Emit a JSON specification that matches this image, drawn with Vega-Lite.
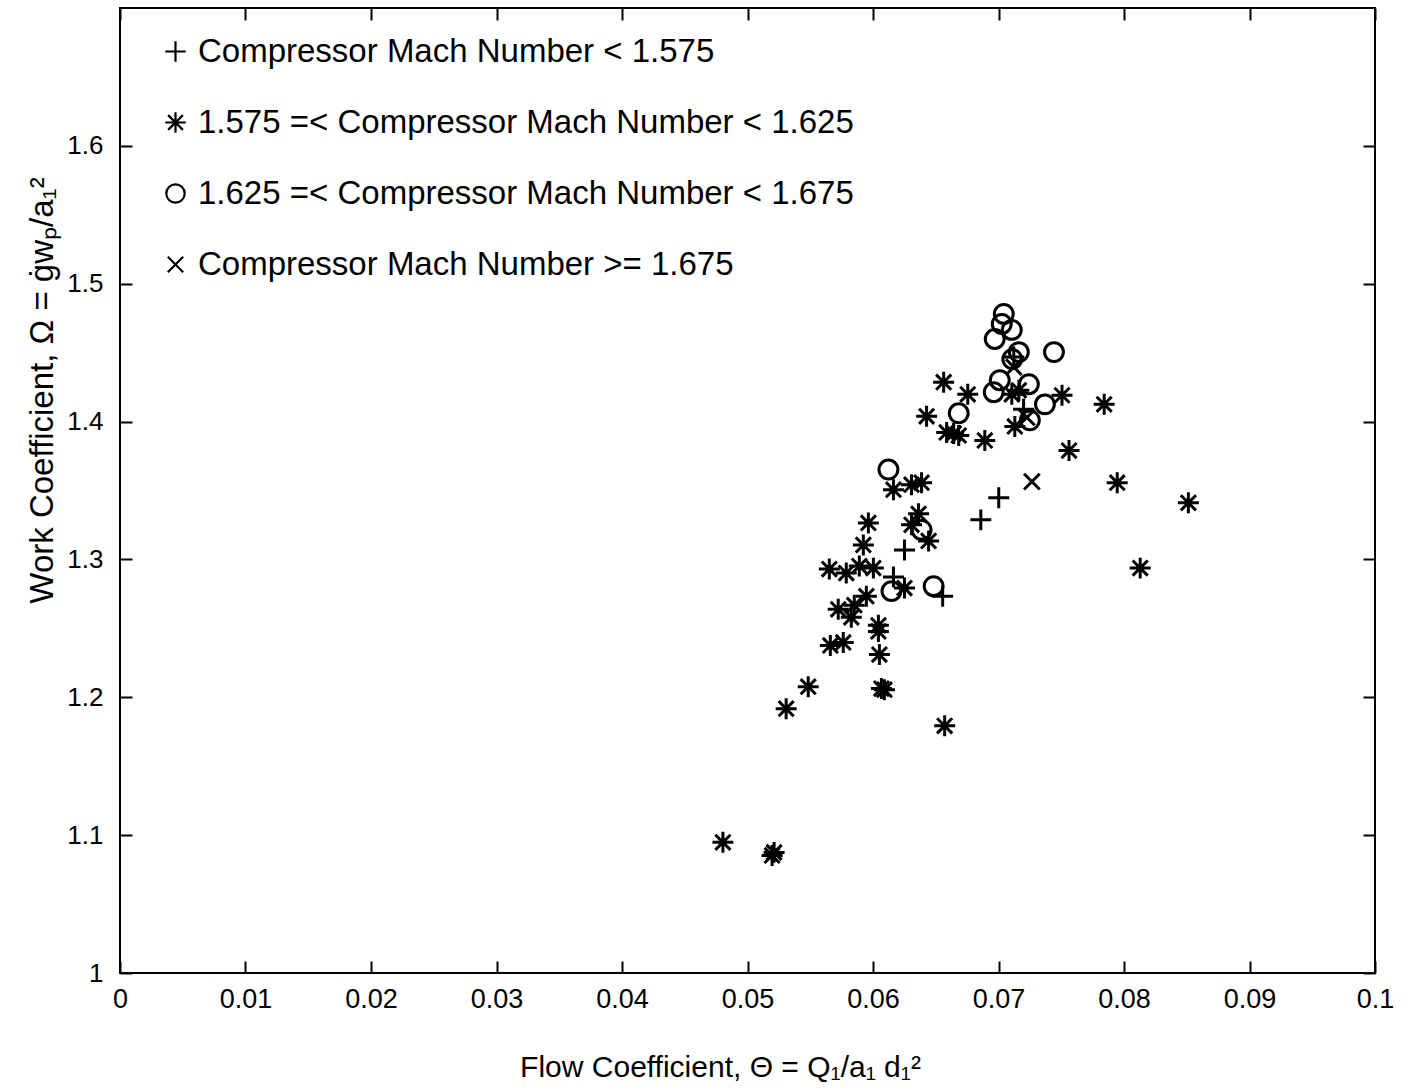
{
  "$schema": "https://vega.github.io/schema/vega-lite/v6.json",
  "width": 1255,
  "height": 965,
  "autosize": {"type": "none"},
  "padding": {"left": 120, "top": 8, "right": 35, "bottom": 115},
  "background": "white",
  "config": {
    "font": "Liberation Sans",
    "view": {"stroke": "black", "strokeWidth": 2},
    "axis": {"grid": false, "domain": false, "tickColor": "black", "tickWidth": 2, "tickSize": -12, "labelColor": "black", "titleColor": "black", "labelFont": "Liberation Sans", "titleFont": "Liberation Sans"}
  },
  "data": {"values": [
    {"x": 0.04804, "y": 1.0948, "g": "1.575 =< Compressor Mach Number < 1.625"},
    {"x": 0.05196, "y": 1.0853, "g": "1.575 =< Compressor Mach Number < 1.625"},
    {"x": 0.05212, "y": 1.0875, "g": "1.575 =< Compressor Mach Number < 1.625"},
    {"x": 0.05308, "y": 1.1917, "g": "1.575 =< Compressor Mach Number < 1.625"},
    {"x": 0.05484, "y": 1.2077, "g": "1.575 =< Compressor Mach Number < 1.625"},
    {"x": 0.05652, "y": 1.2930, "g": "1.575 =< Compressor Mach Number < 1.625"},
    {"x": 0.05660, "y": 1.2376, "g": "1.575 =< Compressor Mach Number < 1.625"},
    {"x": 0.05763, "y": 1.2398, "g": "1.575 =< Compressor Mach Number < 1.625"},
    {"x": 0.05787, "y": 1.2901, "g": "1.575 =< Compressor Mach Number < 1.625"},
    {"x": 0.05723, "y": 1.2638, "g": "1.575 =< Compressor Mach Number < 1.625"},
    {"x": 0.05851, "y": 1.2668, "g": "1.575 =< Compressor Mach Number < 1.625"},
    {"x": 0.05827, "y": 1.2580, "g": "1.575 =< Compressor Mach Number < 1.625"},
    {"x": 0.05947, "y": 1.2733, "g": "1.575 =< Compressor Mach Number < 1.625"},
    {"x": 0.05891, "y": 1.2952, "g": "1.575 =< Compressor Mach Number < 1.625"},
    {"x": 0.05923, "y": 1.3105, "g": "1.575 =< Compressor Mach Number < 1.625"},
    {"x": 0.05963, "y": 1.3265, "g": "1.575 =< Compressor Mach Number < 1.625"},
    {"x": 0.06003, "y": 1.2937, "g": "1.575 =< Compressor Mach Number < 1.625"},
    {"x": 0.06043, "y": 1.2522, "g": "1.575 =< Compressor Mach Number < 1.625"},
    {"x": 0.06043, "y": 1.2478, "g": "1.575 =< Compressor Mach Number < 1.625"},
    {"x": 0.06051, "y": 1.2310, "g": "1.575 =< Compressor Mach Number < 1.625"},
    {"x": 0.06067, "y": 1.2063, "g": "1.575 =< Compressor Mach Number < 1.625"},
    {"x": 0.06091, "y": 1.2055, "g": "1.575 =< Compressor Mach Number < 1.625"},
    {"x": 0.06163, "y": 1.3506, "g": "1.575 =< Compressor Mach Number < 1.625"},
    {"x": 0.06251, "y": 1.2792, "g": "1.575 =< Compressor Mach Number < 1.625"},
    {"x": 0.06307, "y": 1.3542, "g": "1.575 =< Compressor Mach Number < 1.625"},
    {"x": 0.06387, "y": 1.3557, "g": "1.575 =< Compressor Mach Number < 1.625"},
    {"x": 0.06363, "y": 1.3331, "g": "1.575 =< Compressor Mach Number < 1.625"},
    {"x": 0.06307, "y": 1.3251, "g": "1.575 =< Compressor Mach Number < 1.625"},
    {"x": 0.06443, "y": 1.3134, "g": "1.575 =< Compressor Mach Number < 1.625"},
    {"x": 0.06427, "y": 1.4038, "g": "1.575 =< Compressor Mach Number < 1.625"},
    {"x": 0.06563, "y": 1.4286, "g": "1.575 =< Compressor Mach Number < 1.625"},
    {"x": 0.06587, "y": 1.3921, "g": "1.575 =< Compressor Mach Number < 1.625"},
    {"x": 0.06683, "y": 1.3899, "g": "1.575 =< Compressor Mach Number < 1.625"},
    {"x": 0.06643, "y": 1.3914, "g": "1.575 =< Compressor Mach Number < 1.625"},
    {"x": 0.06755, "y": 1.4198, "g": "1.575 =< Compressor Mach Number < 1.625"},
    {"x": 0.06891, "y": 1.3863, "g": "1.575 =< Compressor Mach Number < 1.625"},
    {"x": 0.06571, "y": 1.1793, "g": "1.575 =< Compressor Mach Number < 1.625"},
    {"x": 0.07130, "y": 1.3965, "g": "1.575 =< Compressor Mach Number < 1.625"},
    {"x": 0.07162, "y": 1.4227, "g": "1.575 =< Compressor Mach Number < 1.625"},
    {"x": 0.07106, "y": 1.4198, "g": "1.575 =< Compressor Mach Number < 1.625"},
    {"x": 0.07506, "y": 1.4191, "g": "1.575 =< Compressor Mach Number < 1.625"},
    {"x": 0.07562, "y": 1.3790, "g": "1.575 =< Compressor Mach Number < 1.625"},
    {"x": 0.07842, "y": 1.4125, "g": "1.575 =< Compressor Mach Number < 1.625"},
    {"x": 0.07946, "y": 1.3557, "g": "1.575 =< Compressor Mach Number < 1.625"},
    {"x": 0.08129, "y": 1.2937, "g": "1.575 =< Compressor Mach Number < 1.625"},
    {"x": 0.08513, "y": 1.3411, "g": "1.575 =< Compressor Mach Number < 1.625"},
    {"x": 0.07042, "y": 1.4781, "g": "1.625 =< Compressor Mach Number < 1.675"},
    {"x": 0.07026, "y": 1.4708, "g": "1.625 =< Compressor Mach Number < 1.675"},
    {"x": 0.07106, "y": 1.4665, "g": "1.625 =< Compressor Mach Number < 1.675"},
    {"x": 0.06970, "y": 1.4599, "g": "1.625 =< Compressor Mach Number < 1.675"},
    {"x": 0.07162, "y": 1.4504, "g": "1.625 =< Compressor Mach Number < 1.675"},
    {"x": 0.07442, "y": 1.4504, "g": "1.625 =< Compressor Mach Number < 1.675"},
    {"x": 0.07010, "y": 1.4300, "g": "1.625 =< Compressor Mach Number < 1.675"},
    {"x": 0.06962, "y": 1.4213, "g": "1.625 =< Compressor Mach Number < 1.675"},
    {"x": 0.07242, "y": 1.4271, "g": "1.625 =< Compressor Mach Number < 1.675"},
    {"x": 0.07370, "y": 1.4125, "g": "1.625 =< Compressor Mach Number < 1.675"},
    {"x": 0.07250, "y": 1.4009, "g": "1.625 =< Compressor Mach Number < 1.675"},
    {"x": 0.07110, "y": 1.4453, "g": "1.625 =< Compressor Mach Number < 1.675"},
    {"x": 0.06683, "y": 1.4060, "g": "1.625 =< Compressor Mach Number < 1.675"},
    {"x": 0.06123, "y": 1.3652, "g": "1.625 =< Compressor Mach Number < 1.675"},
    {"x": 0.06387, "y": 1.3214, "g": "1.625 =< Compressor Mach Number < 1.675"},
    {"x": 0.06147, "y": 1.2770, "g": "1.625 =< Compressor Mach Number < 1.675"},
    {"x": 0.06483, "y": 1.2806, "g": "1.625 =< Compressor Mach Number < 1.675"},
    {"x": 0.07002, "y": 1.3447, "g": "Compressor Mach Number < 1.575"},
    {"x": 0.06859, "y": 1.3287, "g": "Compressor Mach Number < 1.575"},
    {"x": 0.06251, "y": 1.3068, "g": "Compressor Mach Number < 1.575"},
    {"x": 0.06163, "y": 1.2872, "g": "Compressor Mach Number < 1.575"},
    {"x": 0.06555, "y": 1.2733, "g": "Compressor Mach Number < 1.575"},
    {"x": 0.07122, "y": 1.4468, "g": "Compressor Mach Number < 1.575"},
    {"x": 0.07200, "y": 1.4089, "g": "Compressor Mach Number < 1.575"},
    {"x": 0.07266, "y": 1.3564, "g": "Compressor Mach Number >= 1.675"},
    {"x": 0.07122, "y": 1.4395, "g": "Compressor Mach Number >= 1.675"},
    {"x": 0.07226, "y": 1.4030, "g": "Compressor Mach Number >= 1.675"}
  ]},
  "resolve": {"axis": {"x": "independent", "y": "independent"}},
  "layer": [
    {
      "mark": {"type": "point", "filled": false, "color": "black", "strokeWidth": 3, "size": 440, "opacity": 1},
      "encoding": {
        "x": {"field": "x", "type": "quantitative", "scale": {"domain": [0, 0.1], "nice": false, "zero": false},
          "axis": {"orient": "bottom", "values": [0, 0.01, 0.02, 0.03, 0.04, 0.05, 0.06, 0.07, 0.08, 0.09, 0.1],
            "labelExpr": "datum.value == 0 ? '0' : (datum.value > 0.099 ? '0.1' : format(datum.value, '.2f'))",
            "labelFontSize": 27, "labelPadding": 25, "labelFlush": false,
            "title": "Flow Coefficient,  \u0398 = Q\u2081/a\u2081 d\u2081\u00b2", "titleFontSize": 30, "titleFontWeight": "normal", "titlePadding": 40, "titleX": 600}},
        "y": {"field": "y", "type": "quantitative", "scale": {"domain": [1, 1.7], "nice": false, "zero": false},
          "axis": {"orient": "left", "values": [1, 1.1, 1.2, 1.3, 1.4, 1.5, 1.6],
            "labelExpr": "datum.value == 1 ? '1' : format(datum.value, '.1f')",
            "labelFontSize": 26, "labelPadding": 29, "labelFlush": false,
            "title": "Work Coefficient,   \u03a9 = \u0121w\u209a/a\u2081\u00b2", "titleFontSize": 33, "titleFontWeight": "normal", "titleX": -78, "titleY": 382, "titleBaseline": "middle", "titleAngle": 270, "titleAlign": "center"}},
        "shape": {"field": "g", "type": "nominal",
          "scale": {"domain": ["Compressor Mach Number < 1.575", "1.575 =< Compressor Mach Number < 1.625", "1.625 =< Compressor Mach Number < 1.675", "Compressor Mach Number >= 1.675"],
            "range": ["M-1,0L1,0M0,-1L0,1", "M-1,0L1,0M0,-1L0,1M-0.72,-0.72L0.72,0.72M-0.72,0.72L0.72,-0.72", "M0.9,0A0.9,0.9,0,1,1,-0.9,0A0.9,0.9,0,1,1,0.9,0Z", "M-0.75,-0.75L0.75,0.75M-0.75,0.75L0.75,-0.75"]},
          "legend": {"title": null, "orient": "none", "legendX": 39, "legendY": 27, "padding": 0,
            "labelFontSize": 33, "labelColor": "black", "labelLimit": 900, "labelOffset": 6,
            "symbolSize": 420, "symbolStrokeWidth": 2.2, "symbolStrokeColor": "black", "symbolFillColor": "transparent",
            "rowPadding": 37, "strokeColor": null}}
      }
    },
    {
      "mark": {"type": "point", "opacity": 0},
      "encoding": {
        "x": {"field": "x", "type": "quantitative",
          "axis": {"orient": "top", "values": [0, 0.01, 0.02, 0.03, 0.04, 0.05, 0.06, 0.07, 0.08, 0.09, 0.1], "labels": false, "title": null}},
        "y": {"field": "y", "type": "quantitative",
          "axis": {"orient": "right", "values": [1, 1.1, 1.2, 1.3, 1.4, 1.5, 1.6], "labels": false, "title": null}}
      }
    }
  ]
}
